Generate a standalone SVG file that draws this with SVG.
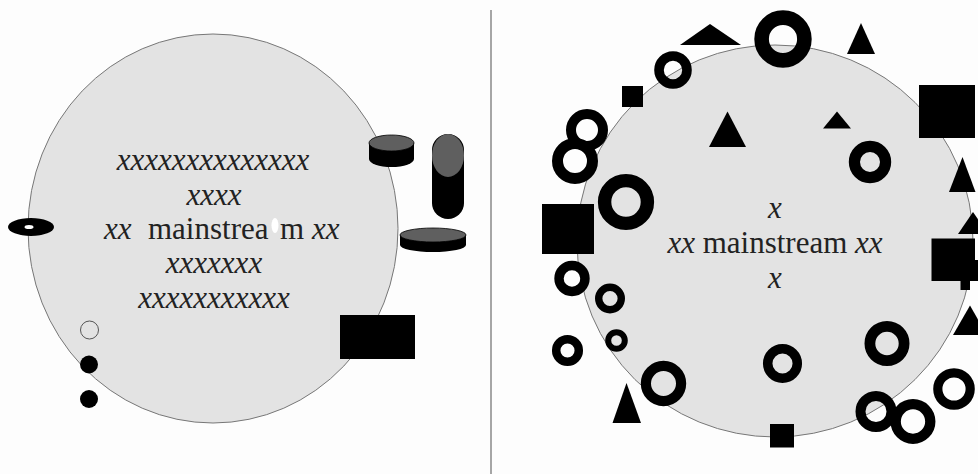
<svg xmlns="http://www.w3.org/2000/svg" width="978" height="474" viewBox="0 0 978 474">
<style>
.bg{fill:#fdfdfd}
.big{fill:#e3e3e3;stroke:#777;stroke-width:1}
.t{font-family:"Liberation Serif","Times New Roman",serif;font-size:31px;fill:#222}
.i{font-style:italic}
.blk{fill:#000}
.gry{fill:#5f5f5f}
.ring{fill:none;stroke:#000}
.hollow{fill:none;stroke:#555;stroke-width:1}
</style>
<rect class="bg" x="0" y="0" width="978" height="474"/>
<line x1="491" y1="10" x2="491" y2="474" stroke="#888" stroke-width="1.5"/>

<g id="left-panel">
  <g id="left-circle">
    <ellipse class="big" cx="213" cy="228.5" rx="185" ry="194.5"/>
  </g>
  <g id="left-text">
    <text class="t i" x="213" y="170" text-anchor="middle">xxxxxxxxxxxxxx</text>
    <text class="t i" x="214" y="205" text-anchor="middle">xxxx</text>
    <text class="t" y="239"><tspan class="i" x="104">xx</tspan><tspan x="148">mainstrea</tspan><tspan x="280">m</tspan><tspan class="i" x="312">xx</tspan></text>
    <ellipse cx="275" cy="225.5" rx="3.5" ry="7.5" fill="#fff"/>
    <text class="t i" x="214" y="273" text-anchor="middle">xxxxxxx</text>
    <text class="t i" x="214" y="308" text-anchor="middle">xxxxxxxxxxx</text>
  </g>
  <g id="disc">
    <ellipse class="blk" cx="31" cy="227" rx="23" ry="9"/>
    <ellipse cx="29" cy="227" rx="4.5" ry="2" fill="#fff"/>
  </g>
  <g id="cylinder-1">
    <rect class="blk" x="369" y="143" width="45" height="16"/>
    <ellipse class="blk" cx="391.5" cy="159" rx="22.5" ry="8"/>
    <ellipse class="gry" cx="391.5" cy="143" rx="22.5" ry="8" stroke="#000" stroke-width="0.8"/>
  </g>
  <g id="cylinder-2">
    <rect class="blk" x="432" y="134" width="32" height="85" rx="16" ry="16"/>
    <ellipse class="gry" cx="448" cy="155.5" rx="16" ry="21.5"/>
  </g>
  <g id="cylinder-3">
    <rect class="blk" x="400" y="235" width="66" height="10"/>
    <ellipse class="blk" cx="433" cy="245" rx="33" ry="7"/>
    <ellipse class="gry" cx="433" cy="235" rx="33" ry="7" stroke="#000" stroke-width="0.8"/>
  </g>
  <g id="rect-left"><rect class="blk" x="340" y="315" width="75" height="44"/></g>
  <g id="dot-1"><circle class="hollow" cx="89.5" cy="330" r="9"/></g>
  <g id="dot-2"><circle class="blk" cx="89" cy="364.5" r="9"/></g>
  <g id="dot-3"><circle class="blk" cx="89" cy="399" r="9"/></g>
</g>

<g id="right-panel">
  <g id="right-circle">
    <ellipse class="big" cx="775" cy="241" rx="198" ry="196"/>
  </g>
  <g id="right-text">
    <text class="t i" x="775" y="218" text-anchor="middle">x</text>
    <text class="t" x="775" y="253" text-anchor="middle"><tspan class="i">xx</tspan> mainstream <tspan class="i">xx</tspan></text>
    <text class="t i" x="775" y="288" text-anchor="middle">x</text>
  </g>
  <g id="tri-1"><polygon class="blk" points="680,45 741,45 710,24"/></g>
  <g id="ring-1"><circle class="ring" cx="783" cy="39" r="21.4" stroke-width="14.6"/></g>
  <g id="tri-2"><polygon class="blk" points="847,54 875,54 861,23"/></g>
  <g id="ring-2"><circle class="ring" cx="673" cy="70" r="14" stroke-width="9.6"/></g>
  <g id="sq-1"><rect class="blk" x="622" y="86" width="21" height="21"/></g>
  <g id="ring-3"><circle class="ring" cx="587" cy="130" r="16" stroke-width="10"/></g>
  <g id="ring-4"><circle class="ring" cx="575" cy="161" r="17.5" stroke-width="11"/></g>
  <g id="tri-3"><polygon class="blk" points="709,147 746,147 727.5,111.5"/></g>
  <g id="tri-4"><polygon class="blk" points="823,128.5 851,128.5 837,111.5"/></g>
  <g id="sq-2"><rect class="blk" x="919" y="85" width="56" height="53"/></g>
  <g id="ring-5"><circle class="ring" cx="870" cy="162" r="15.6" stroke-width="11.2"/></g>
  <g id="tri-5"><polygon class="blk" points="949,192 975.5,192 962.5,157"/></g>
  <g id="ring-6"><circle class="ring" cx="626" cy="202" r="21.4" stroke-width="13.4"/></g>
  <g id="sq-3"><rect class="blk" x="542" y="204" width="52" height="50"/></g>
  <g id="tri-6"><polygon class="blk" points="958,234 988,234 973,212"/></g>
  <g id="sq-4">
    <rect class="blk" x="931.5" y="238.5" width="43.5" height="42.5"/>
    <rect class="blk" x="975" y="260" width="3" height="21"/>
    <rect class="blk" x="960.5" y="280" width="9.5" height="10"/>
  </g>
  <g id="tri-7"><polygon class="blk" points="953,335 987,335 970,305.5"/></g>
  <g id="ring-7"><circle class="ring" cx="572" cy="278.5" r="13" stroke-width="9.4"/></g>
  <g id="ring-8"><circle class="ring" cx="610" cy="298.5" r="11.3" stroke-width="7.4"/></g>
  <g id="ring-9"><circle class="ring" cx="567.5" cy="350.5" r="11.3" stroke-width="8.5"/></g>
  <g id="ring-10"><circle class="ring" cx="616.5" cy="340.5" r="8.3" stroke-width="6"/></g>
  <g id="ring-11"><circle class="ring" cx="663.5" cy="383.5" r="17.6" stroke-width="10.2"/></g>
  <g id="tri-8"><polygon class="blk" points="612.5,423 641,423 626.5,383"/></g>
  <g id="ring-12"><circle class="ring" cx="782.5" cy="363.5" r="14.8" stroke-width="9.5"/></g>
  <g id="sq-5"><rect class="blk" x="770" y="424" width="24" height="23.5"/></g>
  <g id="ring-13"><circle class="ring" cx="887" cy="343.5" r="17.1" stroke-width="10.8"/></g>
  <g id="ring-14"><circle class="ring" cx="876" cy="411.5" r="15.5" stroke-width="10"/></g>
  <g id="ring-15"><circle class="ring" cx="913" cy="421.5" r="17.3" stroke-width="10.3"/></g>
  <g id="ring-16"><circle class="ring" cx="954" cy="389" r="16.2" stroke-width="9.2"/></g>
</g>
<g id="connectors"/>
</svg>
